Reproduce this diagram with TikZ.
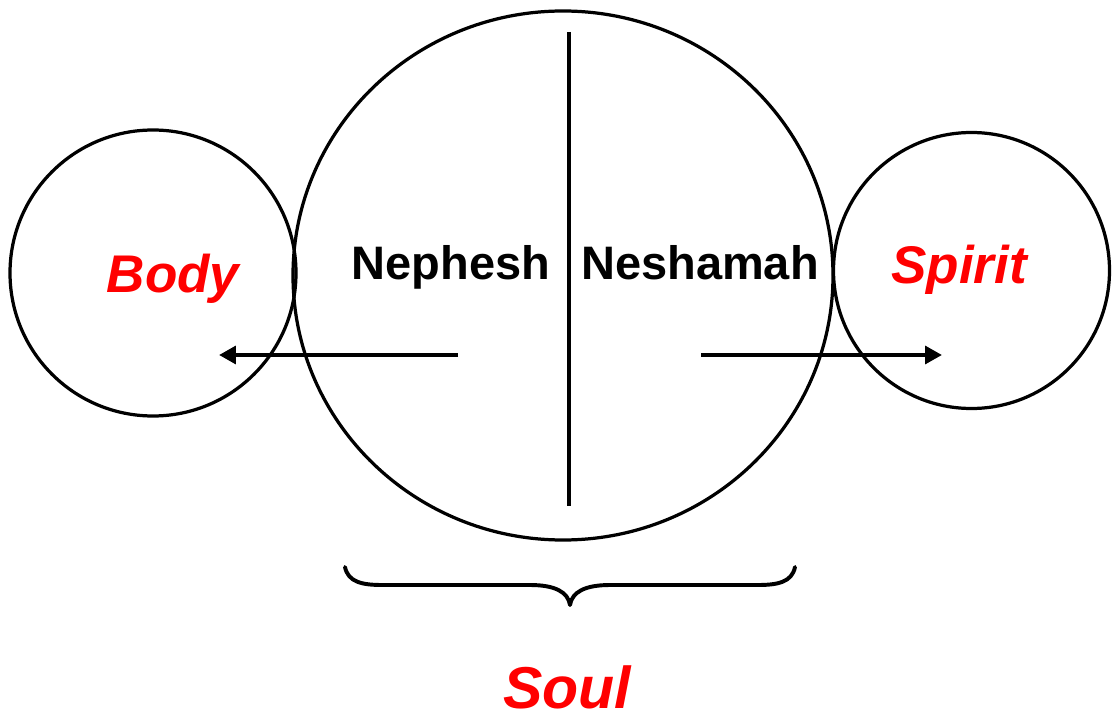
\documentclass[tikz,border=0pt]{standalone}
\usepackage{fontspec}
\setmainfont{Liberation Sans}
\usetikzlibrary{arrows.meta, positioning, calc}

\begin{document}
\begin{tikzpicture}[x=0.025cm, y=-0.025cm, line cap=round, line join=round,
    ring/.style={line width=2.3pt},
    wire/.style={line width=3.4pt},
    lbl/.style={font=\bfseries\fontsize{33.4}{36}\selectfont, anchor=base, inner sep=0pt},
    part/.style={font=\bfseries\itshape\fontsize{37.7}{40}\selectfont, text=red, anchor=base, inner sep=0pt},
    >={Triangle[length=12pt, width=12.5pt]}]
  \useasboundingbox (0,0) rectangle (1112,715);
  % --- the three circles -------------------------------------------
  \coordinate (body) at (153,273);
  \coordinate (soul) at (563,275.5);
  \coordinate (spirit) at (971.5,270.5);
  \draw[ring] (body) circle (143);
  \draw[ring] (soul) ellipse [x radius=270, y radius=264.5];
  \draw[ring] (spirit) circle (138);
  % divider inside the soul
  \coordinate (divtop) at (569,32);
  \coordinate (divbot) at (569,506);
  \draw[line width=2.8pt, line cap=butt] (divtop) -- (divbot);
  % --- labels ------------------------------------------------------
  \node[lbl] (nephesh) at (451,280) {Nephesh};
  \node[lbl] (neshamah) at (700,280) {Neshamah};
  \node[part] (bodytxt) at (173,293) {Body};
  \node[part] (spirittxt) at (959,284) {Spirit};
  \node[part, font=\bfseries\itshape\fontsize{42}{44}\selectfont] (soultxt) at (567,708) {Soul};
  % --- arrows out of the soul ---------------------------------------
  \coordinate (nephtail) at (458,355);
  \coordinate (bodytip) at (219,355);
  \coordinate (neshtail) at (701,355);
  \coordinate (spirittip) at (942,355);
  \draw[wire, ->, line cap=butt] (nephtail) -- (bodytip);
  \draw[wire, ->, line cap=butt] (neshtail) -- (spirittip);
  % --- brace under the soul ----------------------------------------
  \coordinate (brl) at (345,567);
  \coordinate (brr) at (795,567);
  \coordinate (brtip) at (570,605);
  \draw[line width=2.8pt] (brl) .. controls (348,582) and (362,585) .. (382,585)
     -- (530,585) .. controls (555,585) and (568,592) .. (brtip)
     .. controls (572,592) and (585,585) .. (610,585)
     -- (758,585) .. controls (778,585) and (792,582) .. (brr);
\end{tikzpicture}
\end{document}
